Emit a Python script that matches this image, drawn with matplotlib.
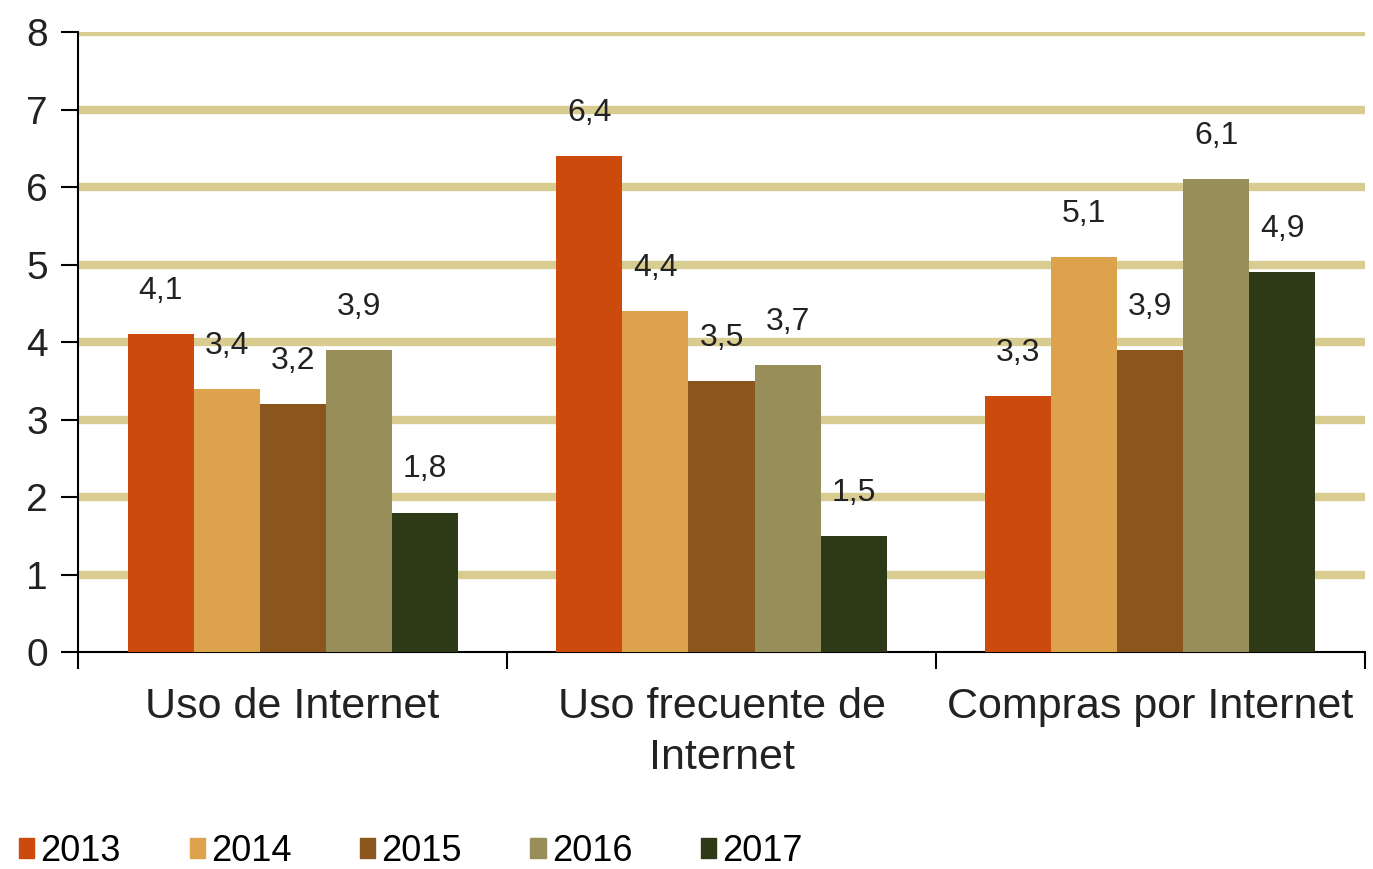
import matplotlib
matplotlib.use("Agg")
import matplotlib.pyplot as plt
import numpy as np

plt.rcParams['font.family'] = ['Liberation Sans', 'DejaVu Sans']

categories = ["Uso de Internet", "Uso frecuente de\nInternet", "Compras por Internet"]
years = ["2013", "2014", "2015", "2016", "2017"]
values = {
    "2013": [4.1, 6.4, 3.3],
    "2014": [3.4, 4.4, 5.1],
    "2015": [3.2, 3.5, 3.9],
    "2016": [3.9, 3.7, 6.1],
    "2017": [1.8, 1.5, 4.9],
}
colors = ["#CC4A0C", "#DCA24C", "#8A561E", "#978E5A", "#2E3918"]
yticks = [0, 1, 2, 3, 4, 5, 6, 7, 8]

fig = plt.figure(figsize=(13.73, 8.69), dpi=100)
ax = fig.add_axes([0.057, 0.2497, 0.937, 0.7133])

x = np.arange(len(categories))
w = 0.154
for i, (yr, c) in enumerate(zip(years, colors)):
    pos = x + (i - 2) * w
    ax.bar(pos, values[yr], width=w, color=c, zorder=3, label=yr)
    for xp, v in zip(pos, values[yr]):
        ax.annotate(f"{v:.1f}".replace(".", ","), (xp, v), xytext=(0, 31),
                    textcoords="offset points", ha="center", va="center",
                    fontsize=23, color="#222222", zorder=4)

ax.set_xlim(-0.5, 2.5)
ax.set_ylim(0, 8)
ax.set_yticks(yticks)
ax.set_yticklabels([str(t) for t in yticks], fontsize=28, color="#222222")
for t in yticks[1:]:
    ax.axhline(t, color="#D8CC90", lw=6, zorder=1)

ax.set_xticks(x)
ax.set_xticklabels(categories, fontsize=31, color="#222222", linespacing=1.35)
ax.tick_params(axis='x', which='major', length=0, pad=25)
ax.set_xticks([-0.5, 0.5, 1.5, 2.5], minor=True)
ax.tick_params(axis='x', which='minor', length=12, width=1.5, direction='out')
ax.tick_params(axis='y', length=12, width=1.5, direction='out', pad=10)

for s in ['top', 'right']:
    ax.spines[s].set_visible(False)
for s in ['left', 'bottom']:
    ax.spines[s].set_linewidth(1.5)

handles = [plt.Rectangle((0, 0), 1, 1, color=c) for c in colors]
fig.legend(handles, years, loc='lower left', bbox_to_anchor=(-0.007, -0.033),
           ncol=5, frameon=False, fontsize=26, handlelength=0.42, handleheight=0.45,
           handletextpad=0.17, columnspacing=1.9, borderpad=0.3)

fig.savefig("out.png", dpi=100, facecolor="white")
